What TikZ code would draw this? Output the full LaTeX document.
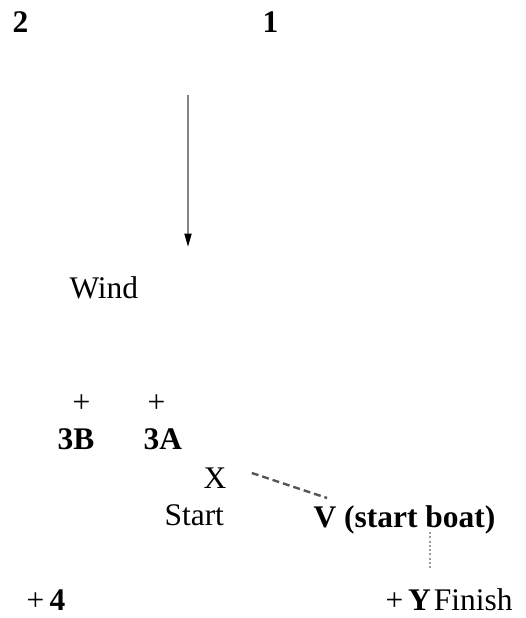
\documentclass[tikz,border=0pt]{standalone}
\usepackage{fontspec}
\setmainfont{Liberation Serif}
\usepackage{tikz}
\usetikzlibrary{arrows.meta}
\definecolor{ShaftGray}{HTML}{858585}
\definecolor{LineDark}{HTML}{555555}
\definecolor{DotGray}{HTML}{9A9A9A}

\begin{document}
\begin{tikzpicture}[x=0.375pt,y=-0.375pt,
    every node/.style={font=\fontsize{11.8}{14}\selectfont, anchor=base west, inner sep=0pt},
    marklbl/.style={font=\fontsize{11.8}{14}\selectfont\bfseries},
    windarrow/.style={ShaftGray, line width=0.75pt, -{Triangle[length=5pt,width=2.6pt,color=black]}},
    startline/.style={LineDark, line width=0.9pt, dash pattern=on 2.6pt off 1.5pt},
    finishline/.style={DotGray, line width=0.6pt, dash pattern=on 0.8pt off 0.8pt}]
  \useasboundingbox (0,0) rectangle (525,618);
  % marks and labels
  \node[marklbl] (marktwo) at (12,33) {2};
  \node[marklbl] (markone) at (262,33) {1};
  \coordinate (windtop) at (188,95);
  \coordinate (windtip) at (188,247);
  \draw[windarrow] (windtop) -- (windtip);
  \node (wind) at (69,299) {Wind};
  \node (plusB) at (72,412) {+};
  \node (plusA) at (147,412) {+};
  \node[marklbl] (markthreeB) at (57,449) {3B};
  \node[marklbl] (markthreeA) at (143,449) {3A};
  \node (pinX) at (203,488) {X};
  \node (start) at (164,525) {Start};
  \node[marklbl] (startboat) at (313,527) {V (start boat)};
  \node (markfour) at (26,610) {+\hspace{0.17em}\textbf{4}};
  \node (finish) at (385,610) {+\hspace{0.15em}\textbf{Y}\hspace{0.1em}Finish};
  % start and finish lines
  \draw[startline] ([shift={(25,-15)}]pinX.base east) -- ([shift={(14,-29)}]startboat.base west);
  \draw[finishline] ([shift={(117,5)}]startboat.base west) -- ([shift={(45,-42)}]finish.base west);
\end{tikzpicture}
\end{document}
